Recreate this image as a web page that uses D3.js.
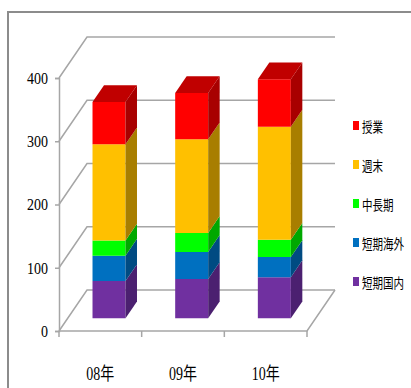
<!DOCTYPE html>
<html>
<head>
<meta charset="utf-8">
<script src="https://cdn.jsdelivr.net/npm/d3@7"></script>
<style>
  body { margin: 0; background: #fff; }
</style>
</head>
<body>
<svg id="chart" width="411" height="388"></svg>
<script>
const categories = ["08年", "09年", "10年"];
const seriesNames = ["短期国内", "短期海外", "中長期", "週末", "授業"];
const shortDomestic = [59, 62, 65];
const shortOverseas = [40, 43, 32];
const midLong = [24, 30, 27];
const weekend = [152, 148, 179];
const classes = [67, 73, 75];
const yTicks = [0, 100, 200, 300, 400];

const frontColors = ["#7030a0", "#0070c0", "#00ff00", "#ffc000", "#ff0000"];
const sideColors = ["#4b2070", "#004b82", "#00a800", "#a87e00", "#a80000"];
const topColor = "#c00000";

const rows = categories.map((cat, i) => ({
  cat,
  短期国内: shortDomestic[i],
  短期海外: shortOverseas[i],
  中長期: midLong[i],
  週末: weekend[i],
  授業: classes[i],
}));

const stacked = d3.stack().keys(seriesNames)(rows);

const plotLeft = 59, plotRight = 307, plotBottom = 331, plotTop = 78;
const depthX = 28, depthY = -41;
const z0 = 0.31, z1 = 0.72;

const x = d3.scaleBand().domain(categories).range([plotLeft, plotRight]);
const y = d3.scaleLinear().domain([0, 400]).range([plotBottom, plotTop]);

const svg = d3.select("#chart");

// outer frame
svg.append("path")
  .attr("d", "M8,388 V12 H411")
  .attr("fill", "none")
  .attr("stroke", "#8c8c8c")
  .attr("stroke-width", 2);

const grid = svg.append("g").attr("stroke", "#a6a6a6").attr("stroke-width", 1.5).attr("fill", "none");

// back wall gridlines and their side diagonals
yTicks.forEach((t) => {
  grid.append("path")
    .attr("d", `M${plotLeft},${y(t)} L${plotLeft + depthX},${y(t) + depthY} H${plotRight + depthX}`);
});

// floor
grid.append("path")
  .attr("d", `M${plotLeft},${plotBottom} H${plotRight} L${plotRight + depthX},${plotBottom + depthY}`);

// value axis
svg.append("g")
  .attr("transform", `translate(${plotLeft},0)`)
  .call(d3.axisLeft(y).tickValues(yTicks).tickSize(4).tickPadding(7))
  .call((g) => g.select(".domain").attr("stroke", "#a6a6a6").attr("stroke-width", 1.5))
  .call((g) => g.selectAll(".tick line").attr("stroke", "#a6a6a6").attr("stroke-width", 1.5))
  .call((g) => g.selectAll(".tick text")
    .attr("font-family", "Liberation Serif")
    .attr("font-size", 17)
    .attr("fill", "#000")
    .attr("textLength", (d) => String(d).length * 7)
    .attr("lengthAdjust", "spacingAndGlyphs"));

// category ticks
const catEdges = categories.map((c) => x(c)).concat([x.range()[1]]);
svg.append("g")
  .selectAll("line")
  .data(catEdges)
  .join("line")
  .attr("x1", (d) => d)
  .attr("x2", (d) => d)
  .attr("y1", plotBottom)
  .attr("y2", plotBottom + 6)
  .attr("stroke", "#a6a6a6")
  .attr("stroke-width", 1.5);

// category labels
svg.append("g")
  .selectAll("text")
  .data(categories)
  .join("text")
  .attr("x", (d) => x(d) + x.bandwidth() / 2 - 14)
  .attr("y", 380)
  .attr("font-family", "Liberation Serif, Noto Sans CJK JP")
  .attr("font-size", 18)
  .attr("textLength", 28)
  .attr("lengthAdjust", "spacingAndGlyphs")
  .text((d) => d);

// bars
const barW = 33;
const proj = (px, val, z) => [px + z * depthX, y(val) + z * depthY];
const poly = (pts) => "M" + pts.map((p) => p.join(",")).join("L") + "Z";

const bars = svg.append("g");
stacked.forEach((layer, li) => {
  layer.forEach((seg, ci) => {
    const x0 = x(categories[ci]) + x.bandwidth() / 2 - barW / 2;
    const x1 = x0 + barW;
    const [lo, hi] = seg;
    bars.append("path")
      .attr("d", poly([proj(x0, lo, z0), proj(x1, lo, z0), proj(x1, hi, z0), proj(x0, hi, z0)]))
      .attr("fill", frontColors[li]);
    bars.append("path")
      .attr("d", poly([proj(x1, lo, z0), proj(x1, lo, z1), proj(x1, hi, z1), proj(x1, hi, z0)]))
      .attr("fill", sideColors[li]);
    if (li === stacked.length - 1) {
      bars.append("path")
        .attr("d", poly([proj(x0, hi, z0), proj(x1, hi, z0), proj(x1, hi, z1), proj(x0, hi, z1)]))
        .attr("fill", topColor);
    }
  });
});

// legend (top to bottom: reverse stack order)
const legendItems = seriesNames.map((name, i) => ({ name, color: frontColors[i] })).reverse();
const legend = svg.append("g")
  .selectAll("g")
  .data(legendItems)
  .join("g")
  .attr("transform", (d, i) => `translate(353,${126 + i * 39})`);

legend.append("rect")
  .attr("x", 0)
  .attr("y", -5)
  .attr("width", 6)
  .attr("height", 9)
  .attr("fill", (d) => d.color);

// condensed legend text, as in the reference
legend.append("text")
  .attr("transform", "translate(9,6) scale(0.75,1)")
  .attr("font-family", "Noto Sans CJK JP")
  .attr("font-size", 14)
  .attr("fill", "#000")
  .text((d) => d.name);
</script>
</body>
</html>
